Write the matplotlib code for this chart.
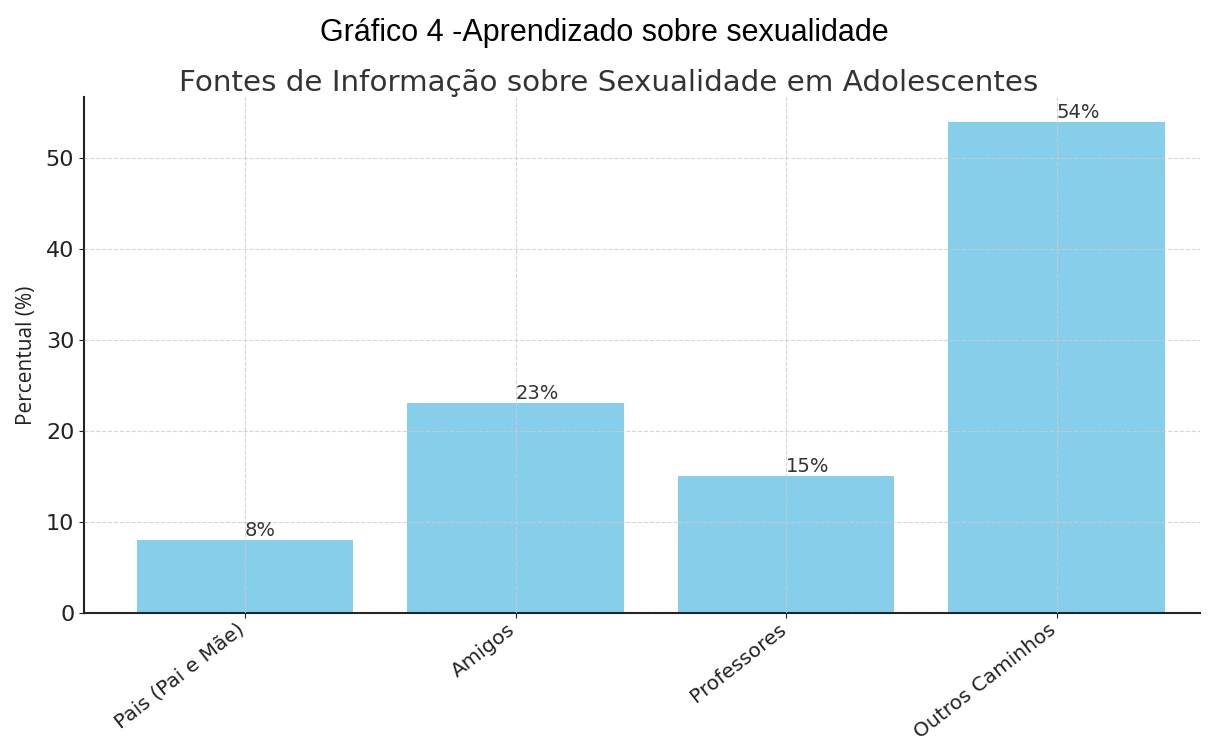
import numpy as np
import matplotlib
matplotlib.use("Agg")
import matplotlib.pyplot as plt
from matplotlib.transforms import ScaledTranslation

categorias = ["Pais (Pai e Mãe)", "Amigos", "Professores", "Outros Caminhos"]
percentuais = [8, 23, 15, 54]
rotulos = ["8%", "23%", "15%", "54%"]


def main():
    fig = plt.figure(figsize=(12.09, 7.40), dpi=100)
    ax = fig.add_axes([0.0695, 0.172, 0.923, 0.697])

    x = np.arange(len(categorias))
    ax.bar(x, percentuais, width=0.8, color="#87CEEB", zorder=2)
    for xi, v, r in zip(x, percentuais, rotulos):
        ax.text(xi, v, r, ha="left", va="bottom", fontsize=14,
                color="#333333", zorder=4)

    ax.grid(True, linestyle="--", color="#cccccc", linewidth=0.8, zorder=3, alpha=0.8)
    ax.set_axisbelow(False)
    ax.set_xlim(-0.595, 3.53)
    ax.set_ylim(0, 56.7)
    ax.set_xticks(x)
    ax.set_xticklabels(categorias, rotation=38, ha="right", fontsize=14.5,
                       rotation_mode="anchor", color="#222222")
    shift = ScaledTranslation(-6 / 72, 2 / 72, fig.dpi_scale_trans)
    for lbl in ax.get_xticklabels():
        lbl.set_transform(lbl.get_transform() + shift)
    ax.set_yticks([0, 10, 20, 30, 40, 50])
    ax.tick_params(axis="y", labelsize=16, colors="#222222")
    ax.tick_params(axis="x", colors="#222222")
    for s in ["top", "right"]:
        ax.spines[s].set_visible(False)
    for s in ["left", "bottom"]:
        ax.spines[s].set_linewidth(1.5)
        ax.spines[s].set_color("#222222")

    ax.set_ylabel("Percentual (%)", fontsize=15, family="Open Sans",
                  color="#222222", labelpad=6)
    ax.set_title("Fontes de Informação sobre Sexualidade em Adolescentes",
                 fontsize=21.2, color="#333333", pad=3, x=0.47)
    fig.text(0.5, 0.955, "Gráfico 4 -Aprendizado sobre sexualidade",
             ha="center", va="center", fontsize=22, family="Liberation Sans")

    fig.savefig("out.png", dpi=100)


if __name__ == "__main__":
    main()
